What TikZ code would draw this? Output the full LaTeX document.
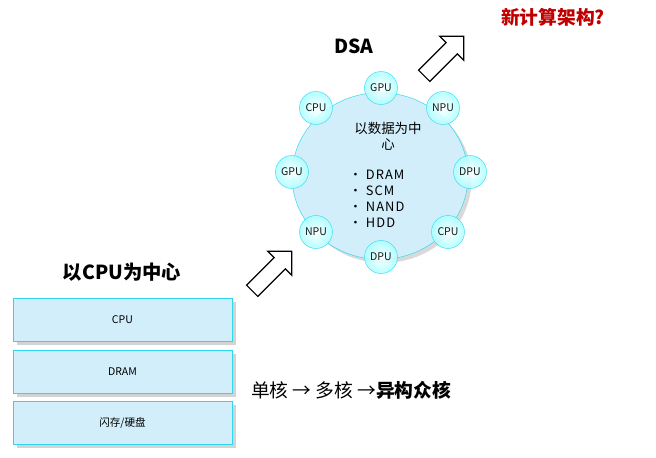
\documentclass[tikz,border=0pt]{standalone}
\usepackage{fontspec}
\setmainfont{Noto Sans CJK SC}
\usetikzlibrary{shapes.geometric,shadows}

\definecolor{boxblue}{RGB}{211,238,251}
\definecolor{boxline}{RGB}{45,215,240}
\definecolor{asknew}{RGB}{192,0,0}

\tikzset{
	layer/.style={draw=boxline, fill=boxblue, minimum width=6.57cm, minimum height=1.29cm,
		font=\fontsize{9}{10}\selectfont,
		drop shadow={opacity=0.35, shadow xshift=3pt, shadow yshift=-3pt}},
	unit/.style={circle, draw=boxline, inner sep=0pt, minimum size=0.99cm, opacity=0.9,
		inner color=white, outer color=cyan!32, font=\fontsize{9}{10}\selectfont},
	heading/.style={font=\fontsize{16.5}{19}\selectfont\bfseries},
	blockarrow/.style={line width=1pt, fill=white, line join=miter}
}

\begin{document}
\begin{tikzpicture}[x=0.03cm, y=-0.03cm]
	\useasboundingbox (0,0) rectangle (656,458);
	
	% left: CPU centred stack
	\node[heading] (cputitle) at (122,272) {以CPU为中心};
	\node[layer] (cpu) at (122.5,319.5) {CPU};
	\node[layer] (dram) at (122.5,371.5) {DRAM};
	\node[layer] (disk) at (122.5,423) {闪存/硬盘};
	
	\node[font=\fontsize{16}{18}\selectfont, anchor=west] (evol) at (247,390) {单核 → 多核 →\textbf{异构众核}};
	
	% right: DSA
	\node[heading] (dsa) at (354,46) {DSA};
	\node[heading, font=\fontsize{16}{19}\selectfont\bfseries, text=asknew] (ask) at (553,17) {新计算架构?};
	
	\node[ellipse, draw=boxline, fill=boxblue, minimum width=5.28cm, minimum height=5.0cm,
		drop shadow={opacity=0.3, shadow xshift=3pt, shadow yshift=-3pt}] (core) at (380,176) {};
	\node[align=center, font=\fontsize{11.5}{13.5}\selectfont] (centre) at (388,136) {以数据为中\\心};
	\node[anchor=west, align=left, font=\fontsize{11}{13.6}\selectfont\addfontfeature{LetterSpace=8}] (media) at (345,199)
		{\textbullet\ DRAM\\\textbullet\ SCM\\\textbullet\ NAND\\\textbullet\ HDD};
	
	\foreach \n/\x/\y/\t in {u1/381/88/GPU, u2/443/108/NPU, u3/470/172/DPU, u4/448/232/CPU,
		u5/381/257/DPU, u6/316/232/NPU, u7/292/172/GPU, u8/316/108/CPU}
	\node[unit] (\n) at (\x,\y) {\t};
	
	% block arrows
	\foreach \x/\y in {272/271, 444/56}
	\draw[blockarrow, shift={(\x,\y)}, rotate=45]
		(-28,-8) -- (11,-8) -- (11,-17) -- (28,0) -- (11,17) -- (11,8) -- (-28,8) -- cycle;
	
\end{tikzpicture}
\end{document}
